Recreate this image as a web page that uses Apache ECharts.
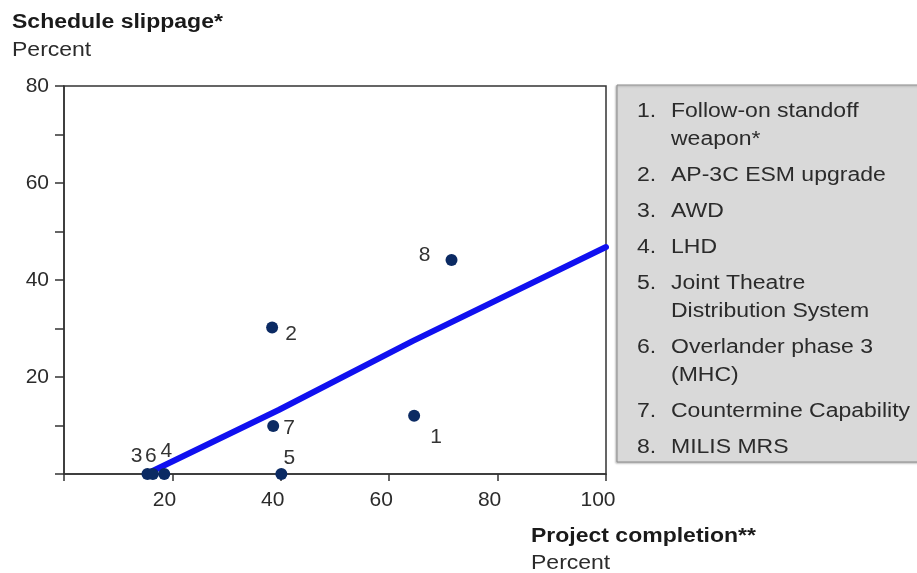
<!DOCTYPE html>
<html>
<head>
<meta charset="utf-8">
<script src="https://cdn.jsdelivr.net/npm/echarts@6.0.0/dist/echarts.min.js"></script>
<style>
html,body{margin:0;padding:0;background:#fff;}
#chart{width:917px;height:573px;}
</style>
</head>
<body>
<div id="chart"></div>
<script>
// ---- data ----
var projectIds = ['1', '2', '3', '4', '5', '6', '7', '8'];
var completion = [64.6, 38.4, 15.4, 18.5, 40.1, 16.4, 38.6, 71.5];
var slippage = [12.0, 30.2, 0, 0, 0, 0, 9.9, 44.1];
var trendX = [15.2, 39.6, 64.3, 100];
var trendY = [0, 13.2, 27.4, 46.8];
var xTicks = [20, 40, 60, 80, 100];
var yTicks = [20, 40, 60, 80];
var legendItems = [
  ['Follow-on standoff', 'weapon*'],
  ['AP-3C ESM upgrade'],
  ['AWD'],
  ['LHD'],
  ['Joint Theatre', 'Distribution System'],
  ['Overlander phase 3', '(MHC)'],
  ['Countermine Capability'],
  ['MILIS MRS']
];
var yTitle = 'Schedule slippage*';
var xTitle = 'Project completion**';
var unitText = 'Percent';

// ---- layout (not data) ----
var labelOffsets = [[22, 21], [19, 7], [-11, -18], [2, -23], [8, -16], [-2, -18], [16, 2], [-27, -5]];
var FONT = '"Liberation Sans", Arial, sans-serif';
var TXT = '#2b2b2b';
var SX = 1.15;

var scatterData = projectIds.map(function (id, i) {
  return {
    value: [completion[i], slippage[i]],
    name: id,
    label: { offset: labelOffsets[i] }
  };
});
var trendData = trendX.map(function (x, i) { return [x, trendY[i]]; });

// legend graphic
var legendEls = [{
  type: 'rect',
  shape: { x: 617, y: 85, width: 320, height: 377 },
  style: { fill: '#d9d9d9', stroke: '#8e8e8e', lineWidth: 1, shadowBlur: 2, shadowColor: 'rgba(0,0,0,0.25)', shadowOffsetX: -1, shadowOffsetY: 1 }
}];
var ly = 111;
legendItems.forEach(function (lines, i) {
  legendEls.push({
    type: 'text', x: 637, y: ly, scaleX: SX,
    style: { text: (i + 1) + '.', font: '20px ' + FONT, fill: TXT, verticalAlign: 'middle' }
  });
  lines.forEach(function (t, j) {
    legendEls.push({
      type: 'text', x: 671, y: ly + j * 28, scaleX: SX,
      style: { text: t, font: '20px ' + FONT, fill: TXT, verticalAlign: 'middle' }
    });
  });
  ly += lines.length * 28 + 8;
});

var titleEls = [
  { type: 'text', x: 12, y: 22, scaleX: SX, style: { text: yTitle, font: 'bold 20px ' + FONT, fill: '#1a1a1a', verticalAlign: 'middle' } },
  { type: 'text', x: 12, y: 50, scaleX: SX, style: { text: unitText, font: '20px ' + FONT, fill: TXT, verticalAlign: 'middle' } },
  { type: 'text', x: 531, y: 536, scaleX: SX, style: { text: xTitle, font: 'bold 20px ' + FONT, fill: '#1a1a1a', verticalAlign: 'middle' } },
  { type: 'text', x: 531, y: 563, scaleX: SX, style: { text: unitText, font: '20px ' + FONT, fill: TXT, verticalAlign: 'middle' } }
];

var chart = echarts.init(document.getElementById('chart'), null, { renderer: 'canvas' });
chart.setOption({
  animation: false,
  backgroundColor: '#ffffff',
  grid: { left: 64, right: 311, top: 86, bottom: 99, show: true, borderColor: '#333', borderWidth: 1.5, backgroundColor: 'transparent' },
  xAxis: {
    type: 'value', min: 0, max: 100, interval: 20,
    axisLine: { show: true, onZero: false, lineStyle: { color: '#333', width: 1.5 } },
    axisTick: { show: true, length: 7, inside: false, lineStyle: { color: '#333', width: 1.5 } },
    splitLine: { show: false },
    axisLabel: {
      margin: 16, fontSize: 21, fontFamily: FONT, color: TXT, padding: [0, 16, 0, 0],
      formatter: function (v) { return xTicks.indexOf(v) >= 0 ? String(v) : ''; }
    }
  },
  yAxis: {
    type: 'value', min: 0, max: 80, interval: 10,
    axisLine: { show: true, onZero: false, lineStyle: { color: '#333', width: 1.5 } },
    axisTick: { show: true, length: 9, lineStyle: { color: '#333', width: 1.5 } },
    splitLine: { show: false },
    axisLabel: {
      margin: 15, fontSize: 21, fontFamily: FONT, color: TXT,
      formatter: function (v) { return yTicks.indexOf(v) >= 0 ? String(v) : ''; }
    }
  },
  series: [
    {
      type: 'line', data: trendData, showSymbol: false, symbol: 'none', z: 2,
      lineStyle: { color: '#1010f0', width: 6, cap: 'round', join: 'round' },
      silent: true
    },
    {
      type: 'scatter', data: scatterData, symbolSize: 12, z: 3,
      itemStyle: { color: '#0b2a63', opacity: 1 },
      label: {
        show: true, position: 'inside', formatter: '{b}',
        fontSize: 21, fontFamily: FONT, color: '#333'
      }
    }
  ],
  graphic: legendEls.concat(titleEls)
});
</script>
</body>
</html>
